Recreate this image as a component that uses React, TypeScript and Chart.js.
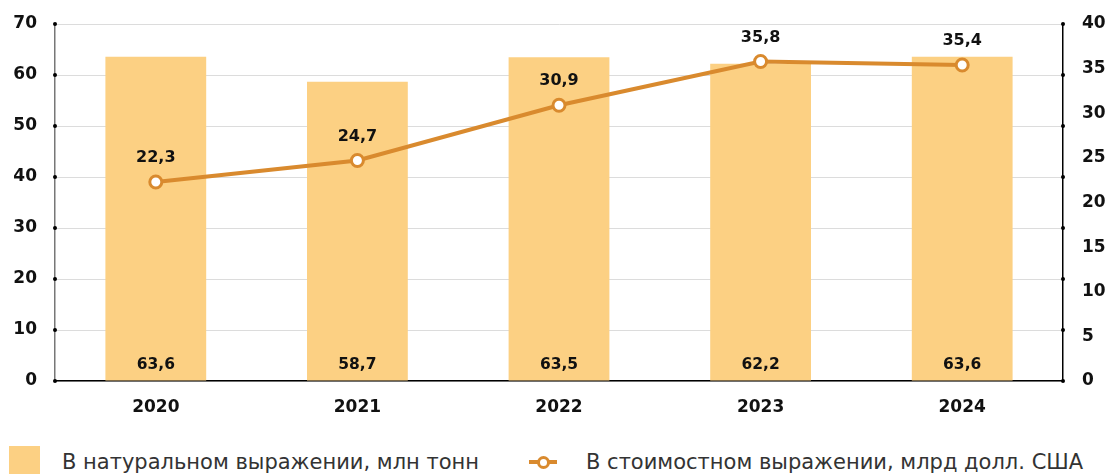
import React, { useEffect, useRef } from "react";
import { Chart, registerables } from "chart.js";

Chart.register(...registerables);

const categories = ["2020", "2021", "2022", "2023", "2024"];
const volumeValues = [63.6, 58.7, 63.5, 62.2, 63.6];
const valueValues = [22.3, 24.7, 30.9, 35.8, 35.4];
const volumeLabel = "В натуральном выражении, млн тонн";
const valueLabel = "В стоимостном выражении, млрд долл. США";

const BAR_COLOR = "#FCD083";
const LINE_COLOR = "#D98A2E";
const FONT = "'DejaVu Sans', sans-serif";

const fmt = (v: number) => v.toFixed(1).replace(".", ",");

const labelsPlugin = {
  id: "customLabels",
  afterDatasetsDraw(chart: any) {
    const ctx = chart.ctx;
    ctx.save();
    ctx.fillStyle = "#111";
    ctx.textAlign = "center";
    ctx.textBaseline = "middle";
    const barMeta = chart.getDatasetMeta(0);
    ctx.font = `bold 15.5px ${FONT}`;
    barMeta.data.forEach((el: any, i: number) => {
      ctx.fillText(fmt(volumeValues[i]), el.x, chart.chartArea.bottom - 16);
    });
    const lineMeta = chart.getDatasetMeta(1);
    ctx.font = `bold 16px ${FONT}`;
    lineMeta.data.forEach((el: any, i: number) => {
      ctx.fillText(fmt(valueValues[i]), el.x, el.y - 24);
    });
    ctx.restore();
  },
  afterDraw(chart: any) {
    const ctx = chart.ctx;
    const yl = chart.scales.y;
    const area = chart.chartArea;
    ctx.save();
    ctx.fillStyle = "#000";
    yl.ticks.forEach((t: any, i: number) => {
      const y = yl.getPixelForTick(i);
      [area.left, area.right].forEach((x) => {
        ctx.beginPath();
        ctx.arc(x, y, 2, 0, Math.PI * 2);
        ctx.fill();
      });
    });
    ctx.restore();
  },
};

export default function App() {
  const ref = useRef<HTMLCanvasElement>(null);
  useEffect(() => {
    if (!ref.current) return;
    const chart = new Chart(ref.current, {
      type: "bar",
      data: {
        labels: categories,
        datasets: [
          {
            type: "bar",
            label: volumeLabel,
            data: volumeValues,
            backgroundColor: BAR_COLOR,
            yAxisID: "y",
            barPercentage: 0.5,
            categoryPercentage: 1,
            order: 2,
          },
          {
            type: "line",
            label: valueLabel,
            data: valueValues,
            borderColor: LINE_COLOR,
            borderWidth: 4,
            backgroundColor: "#fff",
            pointRadius: 6,
            pointBorderWidth: 3,
            pointBorderColor: LINE_COLOR,
            pointBackgroundColor: "#fff",
            yAxisID: "y1",
            order: 1,
          } as any,
        ],
      },
      options: {
        animation: false,
        responsive: false,
        layout: { padding: { top: 24, left: 0, right: 0, bottom: 0 } },
        plugins: { legend: { display: false }, tooltip: { enabled: false } },
        scales: {
          x: {
            grid: { display: false, drawTicks: false },
            border: { display: true, color: "#000", width: 1.5 },
            ticks: { color: "#111", font: { family: FONT, size: 17, weight: "bold" }, padding: 16 },
            afterFit: (s: any) => { s.height = 49; s.paddingLeft = 0; s.paddingRight = 0; },
          },
          y: {
            position: "left",
            min: 0,
            max: 70,
            ticks: { stepSize: 10, color: "#111", font: { family: FONT, size: 17, weight: "bold" }, padding: 18 },
            grid: { color: "#dcdcdc", lineWidth: 1, drawTicks: false },
            border: { display: true, color: "#777", width: 1.5 },
            afterFit: (s: any) => { s.width = 55; s.paddingTop = 0; s.paddingBottom = 0; },
          },
          y1: {
            position: "right",
            min: 0,
            max: 40,
            ticks: { stepSize: 5, color: "#111", font: { family: FONT, size: 17, weight: "bold" }, padding: 19 },
            grid: { display: false, drawTicks: false },
            border: { display: true, color: "#000", width: 1.5 },
            afterFit: (s: any) => { s.width = 46; s.paddingTop = 0; s.paddingBottom = 0; },
          },
        },
      } as any,
      plugins: [labelsPlugin],
    });
    return () => chart.destroy();
  }, []);

  return (
    <div style={{ position: "fixed", left: 0, top: 0, width: 1109, height: 474, background: "#fff", overflow: "hidden", fontFamily: FONT }}>
      <canvas ref={ref} width={1109} height={430} style={{ display: "block" }} />
      <div style={{ position: "absolute", left: 9, top: 446, width: 31, height: 30, background: BAR_COLOR }} />
      <div style={{ position: "absolute", left: 62, top: 449, fontSize: 21, color: "#333", whiteSpace: "nowrap", lineHeight: "26px" }}>{volumeLabel}</div>
      <div style={{ position: "absolute", left: 529, top: 460, width: 28, height: 4, background: LINE_COLOR }} />
      <div style={{ position: "absolute", left: 537, top: 456, width: 7, height: 7, borderRadius: "50%", background: "#fff", border: `3px solid ${LINE_COLOR}` }} />
      <div style={{ position: "absolute", left: 586, top: 449, fontSize: 21, color: "#333", whiteSpace: "nowrap", lineHeight: "26px" }}>{valueLabel}</div>
    </div>
  );
}
